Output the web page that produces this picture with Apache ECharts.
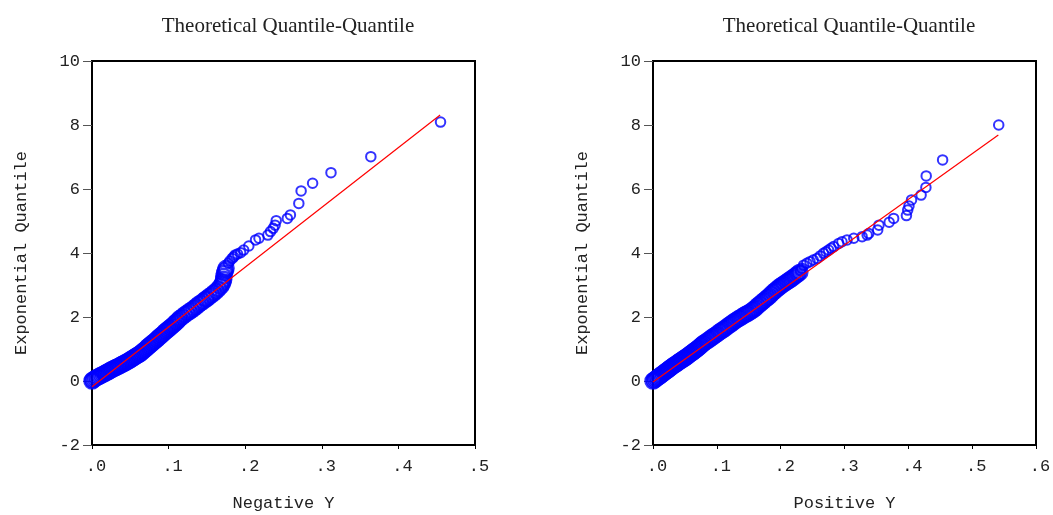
<!DOCTYPE html>
<html><head><meta charset="utf-8">
<script src="https://cdn.jsdelivr.net/npm/echarts@6/dist/echarts.min.js"></script>
<style>html,body{margin:0;padding:0;background:#fff}#c{width:1053px;height:515px}</style>
</head><body><div id="c"></div>
<script>
const chartTitle = 'Theoretical Quantile-Quantile';
const yName = 'Exponential Quantile';
const leftXName = 'Negative Y';
const rightXName = 'Positive Y';
const yTicks = [-2, 0, 2, 4, 6, 8, 10];
const leftXTicks = [0, 0.1, 0.2, 0.3, 0.4, 0.5];
const rightXTicks = [0, 0.1, 0.2, 0.3, 0.4, 0.5, 0.6];

// Negative Y panel: dense band of points (read along the band)
const negBandX = [0.000,0.001,0.003,0.005,0.007,0.009,0.011,0.013,0.015,0.017,0.019,0.021,0.023,0.025,0.027,0.029,0.031,0.033,0.035,0.037,0.039,0.041,0.043,0.045,0.047,0.049,0.051,0.053,0.055,0.057,0.059,0.061,0.063,0.065,0.067,0.069,0.071,0.073,0.075,0.077,0.079,0.081,0.083,0.085,0.087,0.089,0.091,0.093,0.095,0.097,0.099,0.101,0.103,0.105,0.107,0.109,0.111,0.113,0.115,0.118,0.121,0.124,0.127,0.130,0.133,0.136,0.139,0.142,0.145,0.148,0.150,0.153,0.156,0.159,0.162,0.165,0.168,0.170,0.171,0.172,0.172,0.173,0.174,0.175];
const negBandY = [0.00,0.03,0.06,0.09,0.12,0.14,0.17,0.19,0.22,0.24,0.27,0.29,0.32,0.35,0.37,0.40,0.42,0.44,0.47,0.49,0.52,0.54,0.57,0.59,0.62,0.65,0.68,0.71,0.74,0.77,0.80,0.83,0.86,0.90,0.94,0.98,1.02,1.07,1.11,1.15,1.19,1.23,1.27,1.31,1.36,1.40,1.44,1.48,1.53,1.57,1.61,1.65,1.69,1.73,1.77,1.82,1.86,1.91,1.96,2.01,2.07,2.12,2.17,2.22,2.27,2.33,2.39,2.44,2.49,2.55,2.58,2.64,2.69,2.75,2.81,2.88,2.96,3.03,3.10,3.18,3.27,3.37,3.45,3.52];
// Negative Y panel: upper tail points
const negTailX = [0.178,0.180,0.183,0.185,0.187,0.190,0.194,0.198,0.2047,0.2135,0.218,0.2296,0.233,0.2366,0.239,0.2405,0.255,0.259,0.270,0.273,0.288,0.312,0.364,0.455];
const negTailY = [3.68,3.75,3.83,3.88,3.94,3.97,4.01,4.09,4.22,4.41,4.46,4.56,4.67,4.77,4.87,5.01,5.08,5.19,5.55,5.94,6.18,6.51,7.01,8.09];
// Negative Y panel: fitted line end points
const negFitX = [0.0, 0.4545];
const negFitY = [-0.18, 8.31];

// Positive Y panel: dense band
const posBandX = [0.000,0.002,0.004,0.006,0.008,0.010,0.012,0.014,0.016,0.018,0.020,0.022,0.024,0.026,0.028,0.030,0.032,0.034,0.036,0.038,0.040,0.042,0.044,0.046,0.048,0.050,0.052,0.054,0.056,0.058,0.060,0.062,0.064,0.066,0.068,0.070,0.072,0.074,0.076,0.078,0.080,0.083,0.086,0.089,0.092,0.095,0.098,0.101,0.104,0.107,0.110,0.113,0.116,0.119,0.122,0.125,0.128,0.131,0.134,0.137,0.140,0.143,0.146,0.149,0.152,0.155,0.158,0.161,0.164,0.167,0.170,0.173,0.176,0.179,0.182,0.185,0.188,0.191,0.194,0.197,0.200,0.203,0.206,0.209,0.212,0.215,0.218,0.221,0.224,0.227,0.230];
const posBandY = [0.00,0.03,0.06,0.09,0.12,0.15,0.18,0.21,0.24,0.27,0.30,0.33,0.36,0.39,0.42,0.45,0.48,0.51,0.53,0.56,0.59,0.62,0.64,0.67,0.70,0.72,0.75,0.78,0.81,0.84,0.87,0.90,0.93,0.96,0.99,1.02,1.05,1.09,1.12,1.16,1.19,1.23,1.27,1.31,1.36,1.40,1.44,1.48,1.53,1.57,1.61,1.65,1.70,1.74,1.78,1.83,1.87,1.91,1.95,1.98,2.02,2.06,2.09,2.12,2.16,2.20,2.24,2.29,2.35,2.40,2.45,2.50,2.55,2.60,2.65,2.71,2.77,2.82,2.87,2.92,2.97,3.01,3.05,3.09,3.13,3.17,3.21,3.26,3.30,3.35,3.40];
// Positive Y panel: upper tail points
const posTailX = [0.231,0.233,0.236,0.241,0.246,0.251,0.257,0.262,0.267,0.271,0.275,0.279,0.283,0.291,0.296,0.304,0.3145,0.3276,0.3355,0.338,0.352,0.354,0.370,0.377,0.397,0.399,0.401,0.405,0.420,0.4275,0.428,0.4537,0.5416];
const posTailY = [3.45,3.52,3.62,3.68,3.73,3.78,3.83,3.91,3.99,4.04,4.09,4.15,4.20,4.30,4.35,4.41,4.46,4.51,4.56,4.61,4.72,4.87,4.96,5.08,5.17,5.34,5.47,5.66,5.81,6.05,6.41,6.91,8.00];
const posFitX = [0.0, 0.541];
const posFitY = [-0.03, 7.69];

const zip = (xs, ys) => xs.map((x, i) => [x, ys[i]]);
const MONO = "'Liberation Mono', 'DejaVu Sans Mono', monospace";
const BLUE = '#0000ff', RED = '#ff0000';

function xAxisCfg(gi, ticks, name) {
  return {
    gridIndex: gi, type: 'value', min: ticks[0], max: ticks[ticks.length - 1], interval: 0.1,
    name: name, nameLocation: 'middle', nameGap: 50,
    nameTextStyle: { fontFamily: MONO, fontSize: 17, color: '#222' },
    axisLine: { show: true, onZero: false, lineStyle: { color: '#000', width: 2 } },
    axisTick: { show: true, inside: false, length: 4, lineStyle: { color: '#000', width: 1 } },
    axisLabel: { fontFamily: MONO, fontSize: 17, color: '#222', margin: 13, padding: [0, 0, 0, 8],
      formatter: v => v.toFixed(1).replace(/^0/, '') },
    splitLine: { show: false }
  };
}
function yAxisCfg(gi) {
  return {
    gridIndex: gi, type: 'value', min: yTicks[0], max: yTicks[yTicks.length - 1], interval: 2,
    name: yName, nameLocation: 'middle', nameGap: 62, nameRotate: 90,
    nameTextStyle: { fontFamily: MONO, fontSize: 17, color: '#222' },
    axisLine: { show: true, onZero: false, lineStyle: { color: '#000', width: 2 } },
    axisTick: { show: true, inside: false, length: 9, lineStyle: { color: '#555', width: 1 } },
    axisLabel: { fontFamily: MONO, fontSize: 17, color: '#222', margin: 12 },
    splitLine: { show: false }
  };
}
function scatter(xi, data, size, bw) {
  return { type: 'scatter', xAxisIndex: xi, yAxisIndex: xi, data: data, symbol: 'circle',
    symbolSize: size, itemStyle: { color: 'rgba(0,0,0,0)', borderColor: BLUE, borderWidth: bw },
    silent: true, animation: false, z: 2 };
}
function fit(xi, data) {
  return { type: 'line', xAxisIndex: xi, yAxisIndex: xi, data: data, showSymbol: false, symbol: 'none',
    lineStyle: { color: RED, width: 1.2 }, silent: true, animation: false, z: 3 };
}

const titleStyle = { fontFamily: "'Liberation Serif', serif", fontSize: 21, fontWeight: 'normal', color: '#222' };
const gridBase = { top: 61, width: 383, height: 384, show: true, borderColor: '#000', borderWidth: 2,
  backgroundColor: 'transparent', containLabel: false, outerBoundsMode: 'none' };
const chart = echarts.init(document.getElementById('c'), null, { renderer: 'canvas' });
chart.setOption({
  backgroundColor: '#fff',
  animation: false,
  title: [
    { text: chartTitle, left: 283, top: 11, textAlign: 'center', textStyle: titleStyle },
    { text: chartTitle, left: 844, top: 11, textAlign: 'center', textStyle: titleStyle }
  ],
  grid: [
    Object.assign({ left: 92 }, gridBase),
    Object.assign({ left: 653 }, gridBase)
  ],
  xAxis: [xAxisCfg(0, leftXTicks, leftXName), xAxisCfg(1, rightXTicks, rightXName)],
  yAxis: [yAxisCfg(0), yAxisCfg(1)],
  series: [
    scatter(0, zip(negBandX, negBandY), 15, 2.5),
    scatter(0, zip(negTailX, negTailY), 9.5, 2),
    fit(0, zip(negFitX, negFitY)),
    scatter(1, zip(posBandX, posBandY), 15, 2.5),
    scatter(1, zip(posTailX, posTailY), 9.5, 2),
    fit(1, zip(posFitX, posFitY))
  ]
});
</script></body></html>
